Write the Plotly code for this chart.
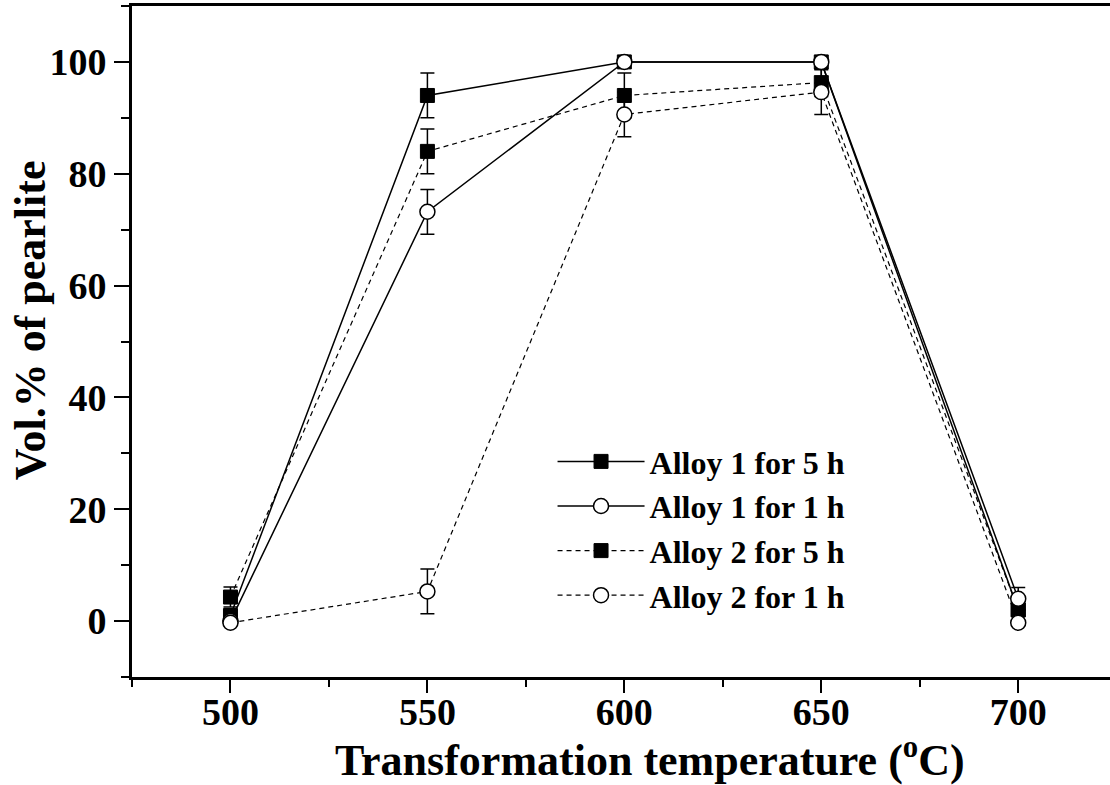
import plotly.graph_objects as go

temps = [500, 550, 600, 650, 700]

alloy1_5h = [1.0, 94.0, 100.0, 100.0, 2.0]
alloy1_5h_err = [None, 4.0, None, None, None]

alloy1_1h = [0.0, 73.2, 100.0, 100.0, 4.0]
alloy1_1h_err = [None, 4.0, None, None, 2.0]

alloy2_5h = [4.3, 84.0, 94.0, 96.3, 2.0]
alloy2_5h_err = [1.8, 4.0, 4.0, 2.5, None]

alloy2_1h = [-0.3, 5.3, 90.6, 94.6, -0.3]
alloy2_1h_err = [None, 4.0, 4.0, 4.0, None]

names = ["Alloy 1 for 5 h", "Alloy 1 for 1 h", "Alloy 2 for 5 h", "Alloy 2 for 1 h"]
x_title = "Transformation temperature (<sup>o</sup>C)"
y_title = "Vol.% of pearlite"

FONT = "Liberation Serif"

def err(arr):
    return dict(type="data", array=[e if e is not None else float("nan") for e in arr],
                visible=True, color="black", thickness=1.5, width=7)

filled = dict(symbol="square", size=14, color="black", line=dict(color="black", width=1))
hollow = dict(symbol="circle", size=15, color="white", line=dict(color="black", width=1.5))

fig = go.Figure()
fig.add_trace(go.Scatter(x=temps, y=alloy1_5h, name=names[0], mode="lines+markers",
                         line=dict(color="black", width=1.5), marker=filled,
                         error_y=err(alloy1_5h_err), legendrank=1))
fig.add_trace(go.Scatter(x=temps, y=alloy2_5h, name=names[2], mode="lines+markers",
                         line=dict(color="black", width=1.2, dash="5px,4px"), marker=filled,
                         error_y=err(alloy2_5h_err), legendrank=3))
fig.add_trace(go.Scatter(x=temps, y=alloy1_1h, name=names[1], mode="lines+markers",
                         line=dict(color="black", width=1.5), marker=hollow,
                         error_y=err(alloy1_1h_err), legendrank=2))
fig.add_trace(go.Scatter(x=temps, y=alloy2_1h, name=names[3], mode="lines+markers",
                         line=dict(color="black", width=1.2, dash="5px,4px"), marker=hollow,
                         error_y=err(alloy2_1h_err), legendrank=4))

tickfont = dict(family=FONT, size=38, color="black", weight="bold")
titlefont = dict(family=FONT, size=44, color="black", weight="bold")

fig.update_layout(
    width=1110, height=785,
    margin=dict(l=132, r=0, t=6, b=108),
    paper_bgcolor="white", plot_bgcolor="white",
    font=dict(family=FONT, color="black"),
    showlegend=True,
    legend=dict(x=0.43, y=0.362, xanchor="left", yanchor="top",
                bgcolor="rgba(0,0,0,0)", borderwidth=0,
                font=dict(family=FONT, size=32, color="black", weight="bold"),
                itemwidth=87, traceorder="normal"),
    xaxis=dict(
        range=[475, 723.3], tickmode="linear", tick0=500, dtick=50,
        showgrid=False, zeroline=False,
        showline=True, linecolor="black", linewidth=3, mirror=True,
        ticks="outside", ticklen=13, tickwidth=2, tickcolor="black",
        minor=dict(dtick=25, tick0=500, ticks="outside", ticklen=7, tickwidth=2, tickcolor="black"),
        tickfont=tickfont, ticklabelstandoff=-14,
    ),
    yaxis=dict(
        range=[-10, 110], tickmode="linear", tick0=0, dtick=20,
        showgrid=False, zeroline=False,
        showline=True, linecolor="black", linewidth=3, mirror=False,
        ticks="outside", ticklen=15, tickwidth=2, tickcolor="black",
        minor=dict(dtick=10, tick0=0, ticks="outside", ticklen=8, tickwidth=2, tickcolor="black"),
        tickfont=tickfont, ticklabelstandoff=0,
    ),
    annotations=[
        dict(text=x_title, xref="paper", yref="paper", x=0.53, y=-0.12,
             xanchor="center", yanchor="middle", showarrow=False, font=titlefont),
        dict(text=y_title, xref="paper", yref="paper", x=-0.104, y=0.532,
             xanchor="center", yanchor="middle", textangle=-90, showarrow=False, font=titlefont),
    ],
)

fig.write_html("out.html")
